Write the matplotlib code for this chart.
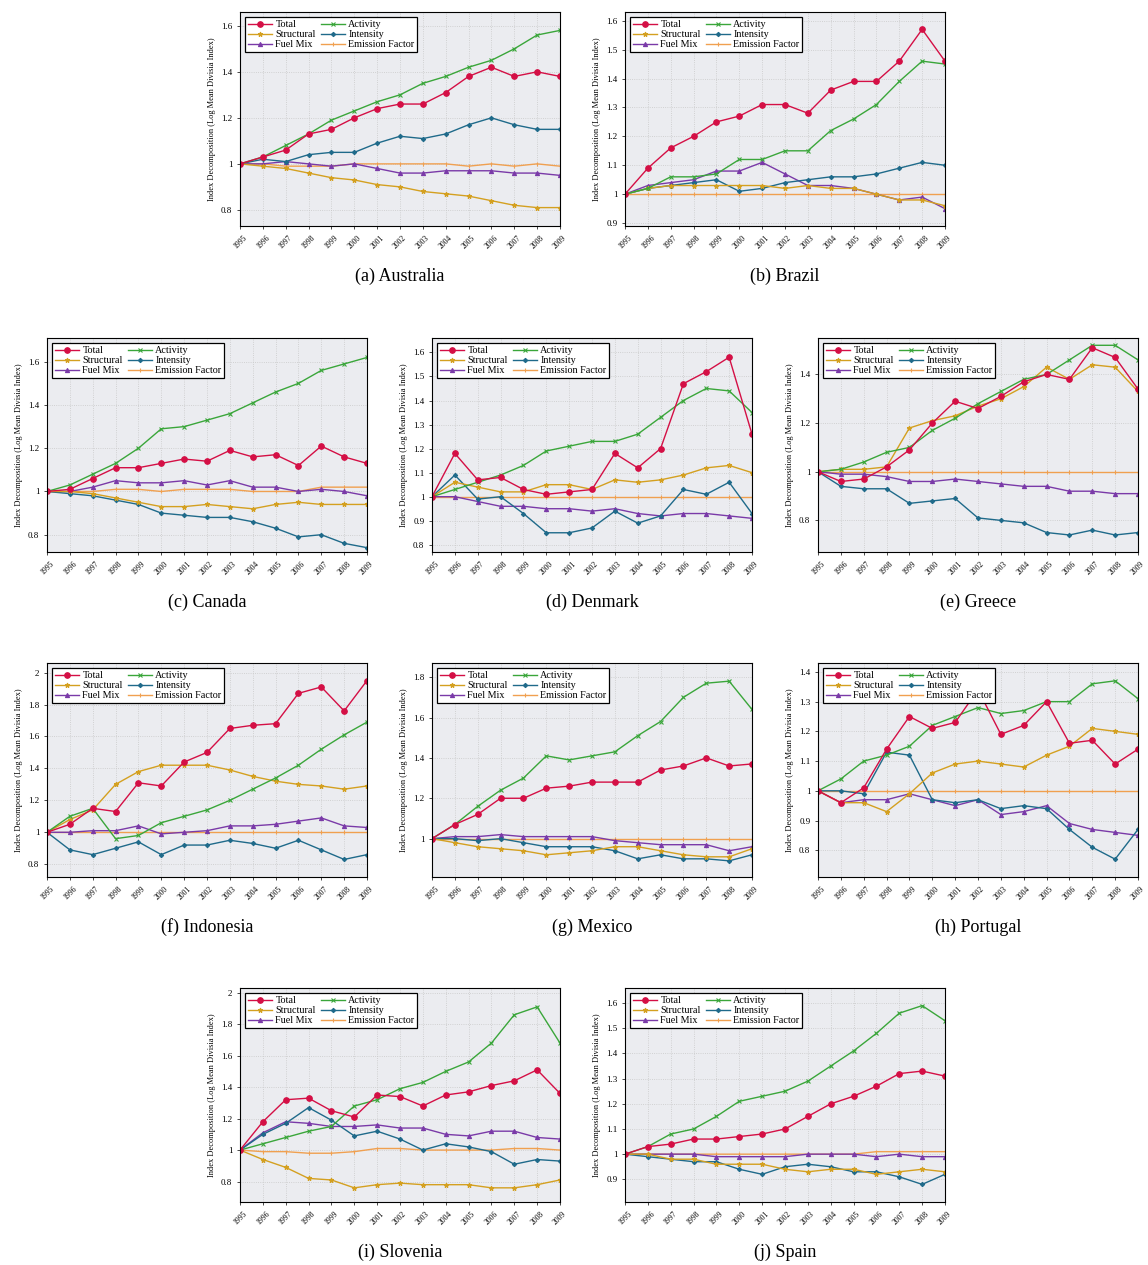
import numpy as np
import matplotlib
matplotlib.use("Agg")
import matplotlib.pyplot as plt

plt.rcParams['font.family'] = ['Liberation Serif', 'DejaVu Serif']

years = list(range(1995, 2010))
series_names = ["Total", "Activity", "Structural", "Intensity", "Fuel Mix", "Emission Factor"]
ones = [1.0] * 15

# ── data ─────────────────────────────────────────────────────────────────────
australia = {
    "Total":      [1, 1.03, 1.06, 1.13, 1.15, 1.20, 1.24, 1.26, 1.26, 1.31, 1.38, 1.42, 1.38, 1.40, 1.38],
    "Activity":   [1, 1.03, 1.08, 1.13, 1.19, 1.23, 1.27, 1.30, 1.35, 1.38, 1.42, 1.45, 1.50, 1.56, 1.58],
    "Structural": [1, 0.99, 0.98, 0.96, 0.94, 0.93, 0.91, 0.90, 0.88, 0.87, 0.86, 0.84, 0.82, 0.81, 0.81],
    "Intensity":  [1, 1.02, 1.01, 1.04, 1.05, 1.05, 1.09, 1.12, 1.11, 1.13, 1.17, 1.20, 1.17, 1.15, 1.15],
    "Fuel Mix":   [1, 1.00, 1.01, 1.00, 0.99, 1.00, 0.98, 0.96, 0.96, 0.97, 0.97, 0.97, 0.96, 0.96, 0.95],
    "Emission Factor": [1, 1.00, 0.99, 0.99, 0.99, 1.00, 1.00, 1.00, 1.00, 1.00, 0.99, 1.00, 0.99, 1.00, 0.99],
}
brazil = {
    "Total":      [1, 1.09, 1.16, 1.20, 1.25, 1.27, 1.31, 1.31, 1.28, 1.36, 1.39, 1.39, 1.46, 1.57, 1.46],
    "Activity":   [1, 1.02, 1.06, 1.06, 1.07, 1.12, 1.12, 1.15, 1.15, 1.22, 1.26, 1.31, 1.39, 1.46, 1.45],
    "Structural": [1, 1.02, 1.03, 1.03, 1.03, 1.03, 1.03, 1.02, 1.03, 1.02, 1.02, 1.00, 0.98, 0.98, 0.96],
    "Intensity":  [1, 1.02, 1.03, 1.04, 1.05, 1.01, 1.02, 1.04, 1.05, 1.06, 1.06, 1.07, 1.09, 1.11, 1.10],
    "Fuel Mix":   [1, 1.03, 1.04, 1.05, 1.08, 1.08, 1.11, 1.07, 1.03, 1.03, 1.02, 1.00, 0.98, 0.99, 0.95],
    "Emission Factor": ones,
}
canada = {
    "Total":      [1, 1.01, 1.06, 1.11, 1.11, 1.13, 1.15, 1.14, 1.19, 1.16, 1.17, 1.12, 1.21, 1.16, 1.13],
    "Activity":   [1, 1.03, 1.08, 1.13, 1.20, 1.29, 1.30, 1.33, 1.36, 1.41, 1.46, 1.50, 1.56, 1.59, 1.62],
    "Structural": [1, 1.00, 0.99, 0.97, 0.95, 0.93, 0.93, 0.94, 0.93, 0.92, 0.94, 0.95, 0.94, 0.94, 0.94],
    "Intensity":  [1, 0.99, 0.98, 0.96, 0.94, 0.90, 0.89, 0.88, 0.88, 0.86, 0.83, 0.79, 0.80, 0.76, 0.74],
    "Fuel Mix":   [1, 1.00, 1.02, 1.05, 1.04, 1.04, 1.05, 1.03, 1.05, 1.02, 1.02, 1.00, 1.01, 1.00, 0.98],
    "Emission Factor": [1, 1.00, 1.00, 1.01, 1.01, 1.00, 1.01, 1.01, 1.01, 1.00, 1.00, 1.00, 1.02, 1.02, 1.02],
}
denmark = {
    "Total":      [1, 1.18, 1.07, 1.08, 1.03, 1.01, 1.02, 1.03, 1.18, 1.12, 1.20, 1.47, 1.52, 1.58, 1.26],
    "Activity":   [1, 1.03, 1.06, 1.09, 1.13, 1.19, 1.21, 1.23, 1.23, 1.26, 1.33, 1.40, 1.45, 1.44, 1.35],
    "Structural": [1, 1.06, 1.04, 1.02, 1.02, 1.05, 1.05, 1.03, 1.07, 1.06, 1.07, 1.09, 1.12, 1.13, 1.10],
    "Intensity":  [1, 1.09, 0.99, 1.00, 0.93, 0.85, 0.85, 0.87, 0.94, 0.89, 0.92, 1.03, 1.01, 1.06, 0.93],
    "Fuel Mix":   [1, 1.00, 0.98, 0.96, 0.96, 0.95, 0.95, 0.94, 0.95, 0.93, 0.92, 0.93, 0.93, 0.92, 0.91],
    "Emission Factor": ones,
}
greece = {
    "Total":      [1, 0.96, 0.97, 1.02, 1.09, 1.20, 1.29, 1.26, 1.31, 1.37, 1.40, 1.38, 1.51, 1.47, 1.34],
    "Activity":   [1, 1.01, 1.04, 1.08, 1.10, 1.17, 1.22, 1.28, 1.33, 1.38, 1.40, 1.46, 1.52, 1.52, 1.46],
    "Structural": [1, 1.01, 1.01, 1.02, 1.18, 1.21, 1.23, 1.27, 1.30, 1.35, 1.43, 1.38, 1.44, 1.43, 1.33],
    "Intensity":  [1, 0.94, 0.93, 0.93, 0.87, 0.88, 0.89, 0.81, 0.80, 0.79, 0.75, 0.74, 0.76, 0.74, 0.75],
    "Fuel Mix":   [1, 0.99, 0.99, 0.98, 0.96, 0.96, 0.97, 0.96, 0.95, 0.94, 0.94, 0.92, 0.92, 0.91, 0.91],
    "Emission Factor": ones,
}
indonesia = {
    "Total":      [1, 1.05, 1.15, 1.13, 1.31, 1.29, 1.44, 1.50, 1.65, 1.67, 1.68, 1.87, 1.91, 1.76, 1.95],
    "Activity":   [1, 1.10, 1.15, 0.96, 0.98, 1.06, 1.10, 1.14, 1.20, 1.27, 1.34, 1.42, 1.52, 1.61, 1.69],
    "Structural": [1, 1.08, 1.14, 1.30, 1.38, 1.42, 1.42, 1.42, 1.39, 1.35, 1.32, 1.30, 1.29, 1.27, 1.29],
    "Intensity":  [1, 0.89, 0.86, 0.90, 0.94, 0.86, 0.92, 0.92, 0.95, 0.93, 0.90, 0.95, 0.89, 0.83, 0.86],
    "Fuel Mix":   [1, 1.00, 1.01, 1.01, 1.04, 0.99, 1.00, 1.01, 1.04, 1.04, 1.05, 1.07, 1.09, 1.04, 1.03],
    "Emission Factor": ones,
}
mexico = {
    "Total":      [1, 1.07, 1.12, 1.20, 1.20, 1.25, 1.26, 1.28, 1.28, 1.28, 1.34, 1.36, 1.40, 1.36, 1.37],
    "Activity":   [1, 1.07, 1.16, 1.24, 1.30, 1.41, 1.39, 1.41, 1.43, 1.51, 1.58, 1.70, 1.77, 1.78, 1.64],
    "Structural": [1, 0.98, 0.96, 0.95, 0.94, 0.92, 0.93, 0.94, 0.96, 0.96, 0.94, 0.92, 0.91, 0.91, 0.95],
    "Intensity":  [1, 1.00, 0.99, 1.00, 0.98, 0.96, 0.96, 0.96, 0.94, 0.90, 0.92, 0.90, 0.90, 0.89, 0.92],
    "Fuel Mix":   [1, 1.01, 1.01, 1.02, 1.01, 1.01, 1.01, 1.01, 0.99, 0.98, 0.97, 0.97, 0.97, 0.94, 0.96],
    "Emission Factor": ones,
}
portugal = {
    "Total":      [1, 0.96, 1.01, 1.14, 1.25, 1.21, 1.23, 1.34, 1.19, 1.22, 1.30, 1.16, 1.17, 1.09, 1.14],
    "Activity":   [1, 1.04, 1.10, 1.12, 1.15, 1.22, 1.25, 1.28, 1.26, 1.27, 1.30, 1.30, 1.36, 1.37, 1.31],
    "Structural": [1, 0.96, 0.96, 0.93, 0.99, 1.06, 1.09, 1.10, 1.09, 1.08, 1.12, 1.15, 1.21, 1.20, 1.19],
    "Intensity":  [1, 1.00, 0.99, 1.13, 1.12, 0.97, 0.96, 0.97, 0.94, 0.95, 0.94, 0.87, 0.81, 0.77, 0.87],
    "Fuel Mix":   [1, 0.96, 0.97, 0.97, 0.99, 0.97, 0.95, 0.97, 0.92, 0.93, 0.95, 0.89, 0.87, 0.86, 0.85],
    "Emission Factor": ones,
}
slovenia = {
    "Total":      [1, 1.18, 1.32, 1.33, 1.25, 1.21, 1.35, 1.34, 1.28, 1.35, 1.37, 1.41, 1.44, 1.51, 1.36],
    "Activity":   [1, 1.04, 1.08, 1.12, 1.15, 1.28, 1.32, 1.39, 1.43, 1.50, 1.56, 1.68, 1.86, 1.91, 1.68],
    "Structural": [1, 0.94, 0.89, 0.82, 0.81, 0.76, 0.78, 0.79, 0.78, 0.78, 0.78, 0.76, 0.76, 0.78, 0.81],
    "Intensity":  [1, 1.10, 1.17, 1.27, 1.19, 1.09, 1.12, 1.07, 1.00, 1.04, 1.02, 0.99, 0.91, 0.94, 0.93],
    "Fuel Mix":   [1, 1.11, 1.18, 1.17, 1.15, 1.15, 1.16, 1.14, 1.14, 1.10, 1.09, 1.12, 1.12, 1.08, 1.07],
    "Emission Factor": [1, 0.99, 0.99, 0.98, 0.98, 0.99, 1.01, 1.01, 1.00, 1.00, 1.00, 1.00, 1.01, 1.01, 1.00],
}
spain = {
    "Total":      [1, 1.03, 1.04, 1.06, 1.06, 1.07, 1.08, 1.10, 1.15, 1.20, 1.23, 1.27, 1.32, 1.33, 1.31],
    "Activity":   [1, 1.03, 1.08, 1.10, 1.15, 1.21, 1.23, 1.25, 1.29, 1.35, 1.41, 1.48, 1.56, 1.59, 1.53],
    "Structural": [1, 1.00, 0.98, 0.98, 0.96, 0.96, 0.96, 0.94, 0.93, 0.94, 0.94, 0.92, 0.93, 0.94, 0.93],
    "Intensity":  [1, 0.99, 0.98, 0.97, 0.97, 0.94, 0.92, 0.95, 0.96, 0.95, 0.93, 0.93, 0.91, 0.88, 0.92],
    "Fuel Mix":   [1, 1.00, 1.00, 1.00, 0.99, 0.99, 0.99, 0.99, 1.00, 1.00, 1.00, 0.99, 1.00, 0.99, 0.99],
    "Emission Factor": [1, 1.00, 1.00, 1.00, 1.00, 1.00, 1.00, 1.00, 1.00, 1.00, 1.00, 1.01, 1.01, 1.01, 1.01],
}

captions = ["(a) Australia", "(b) Brazil", "(c) Canada", "(d) Denmark", "(e) Greece",
            "(f) Indonesia", "(g) Mexico", "(h) Portugal", "(i) Slovenia", "(j) Spain"]
datasets = [australia, brazil, canada, denmark, greece, indonesia, mexico, portugal, slovenia, spain]
ylims = [(0.73, 1.66), (0.89, 1.63), (0.72, 1.71), (0.77, 1.66), (0.67, 1.55),
         (0.72, 2.06), (0.81, 1.87), (0.71, 1.43), (0.67, 2.03), (0.81, 1.66)]
yticks = [[0.8, 1, 1.2, 1.4, 1.6], [0.9, 1, 1.1, 1.2, 1.3, 1.4, 1.5, 1.6],
          [0.8, 1, 1.2, 1.4, 1.6], [0.8, 0.9, 1, 1.1, 1.2, 1.3, 1.4, 1.5, 1.6],
          [0.8, 1, 1.2, 1.4], [0.8, 1, 1.2, 1.4, 1.6, 1.8, 2],
          [1, 1.2, 1.4, 1.6, 1.8], [0.8, 0.9, 1, 1.1, 1.2, 1.3, 1.4],
          [0.8, 1, 1.2, 1.4, 1.6, 1.8, 2], [0.9, 1, 1.1, 1.2, 1.3, 1.4, 1.5, 1.6]]

styles = {
    "Total":           dict(color="#d40f45", marker="o", ms=4),
    "Activity":        dict(color="#3aa63a", marker="x", ms=2.5),
    "Structural":      dict(color="#d4a020", marker="*", ms=3.5),
    "Intensity":       dict(color="#1f6a8a", marker="D", ms=2.2),
    "Fuel Mix":        dict(color="#7a3aa8", marker="^", ms=3),
    "Emission Factor": dict(color="#f0a050", marker="|", ms=3.5),
}
legend_order = ["Total", "Structural", "Fuel Mix", "Activity", "Intensity", "Emission Factor"]

W, H = 1148, 1265
# axes left edge / top edge in pixels
boxes = [(240, 12), (625, 12),
         (47, 338), (432, 338), (818, 338),
         (47, 663), (432, 663), (818, 663),
         (240, 988), (625, 988)]
aw, ah = 320, 214

fig = plt.figure(figsize=(W / 100, H / 100), dpi=100)
for cap, data, (x0, y0), yl, yt in zip(captions, datasets, boxes, ylims, yticks):
    ax = fig.add_axes([x0 / W, 1 - (y0 + ah) / H, aw / W, ah / H])
    ax.set_facecolor("#ebecf0")
    ax.grid(True, color="#c8c8c8", linestyle=":", linewidth=0.6)
    for name in ["Emission Factor", "Fuel Mix", "Intensity", "Structural", "Activity", "Total"]:
        st = styles[name]
        ax.plot(years, data[name], color=st["color"], marker=st["marker"], ms=st["ms"],
                lw=1.0, label=name, mew=0.8)
    ax.set_xlim(1995, 2009)
    ax.set_ylim(*yl)
    ax.set_xticks(years)
    ax.set_xticklabels([str(y) for y in years], rotation=45, fontsize=5.5)
    ax.set_yticks(yt)
    ax.set_yticklabels([f"{v:g}" for v in yt], fontsize=6.5)
    ax.tick_params(length=2, width=0.5)
    ax.set_ylabel("Index Decomposition (Log Mean Divisia Index)", fontsize=6)
    handles, labels = ax.get_legend_handles_labels()
    hmap = dict(zip(labels, handles))
    leg = ax.legend([hmap[n] for n in legend_order], legend_order, ncol=2, loc="upper left",
                    fontsize=7.3, frameon=True, fancybox=False, edgecolor="black",
                    borderpad=0.3, labelspacing=0.1, handlelength=2.4, columnspacing=0.5,
                    handletextpad=0.3, framealpha=1)
    leg.get_frame().set_linewidth(0.9)
    ax.text(0.5, -0.235, cap, transform=ax.transAxes, ha="center", va="center", fontsize=13)

plt.savefig("out.png", dpi=100)
